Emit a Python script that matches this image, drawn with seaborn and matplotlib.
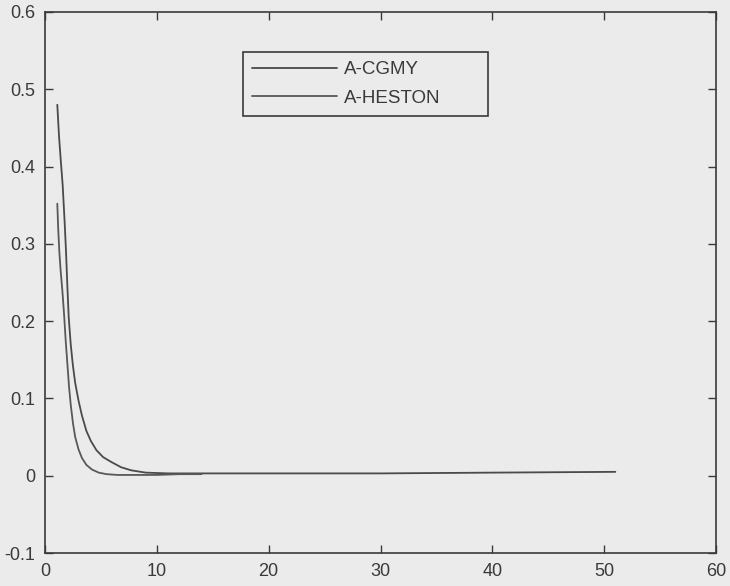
import matplotlib
matplotlib.use("Agg")
import matplotlib.pyplot as plt
import seaborn as sns
import pandas as pd

# data
cgmy_x = [1.1, 1.25, 1.4, 1.58, 1.75, 1.88, 2.0, 2.12, 2.3, 2.5, 2.7, 3.0, 3.3, 3.7,
          4.1, 4.6, 5.2, 5.9, 6.8, 7.7, 9, 11, 14, 20, 30, 40, 51]
cgmy_y = [0.48, 0.44, 0.41, 0.376, 0.33, 0.29, 0.245, 0.205, 0.17, 0.142, 0.12, 0.097,
          0.078, 0.058, 0.045, 0.033, 0.024, 0.018, 0.011, 0.007, 0.004, 0.003, 0.003,
          0.003, 0.003, 0.004, 0.005]
heston_x = [1.1, 1.18, 1.28, 1.4, 1.55, 1.7, 1.85, 2.0, 2.15, 2.3, 2.5, 2.7, 3.0, 3.3,
            3.7, 4.2, 4.8, 5.5, 6.5, 8, 10, 12, 14]
heston_y = [0.352, 0.32, 0.29, 0.265, 0.24, 0.21, 0.175, 0.145, 0.115, 0.092, 0.068,
            0.05, 0.034, 0.023, 0.014, 0.008, 0.004, 0.002, 0.001, 0.001, 0.001, 0.002,
            0.002]
labels = ["A-CGMY", "A-HESTON"]
x_ticks = [0, 10, 20, 30, 40, 50, 60]
y_ticks = [-0.1, 0, 0.1, 0.2, 0.3, 0.4, 0.5, 0.6]
y_ticklabels = ["-0.1", "0", "0.1", "0.2", "0.3", "0.4", "0.5", "0.6"]

df = pd.concat([
    pd.DataFrame({"x": cgmy_x, "y": cgmy_y, "series": labels[0]}),
    pd.DataFrame({"x": heston_x, "y": heston_y, "series": labels[1]}),
], ignore_index=True)

sns.set_theme(style="ticks")
plt.rcParams["font.family"] = ["Liberation Sans", "DejaVu Sans"]

bg = "#ebebeb"
ink = "#3a3a3a"
fig = plt.figure(figsize=(7.3, 5.86), dpi=100, facecolor=bg)
ax = fig.add_axes([45 / 730, 33 / 586, 671 / 730, 541 / 586])
ax.set_facecolor(bg)

sns.lineplot(data=df, x="x", y="y", hue="series", sort=False, estimator=None,
             palette={labels[0]: "#4a4a4a", labels[1]: "#585858"},
             linewidth=1.3, ax=ax, legend=False)

ax.set_xlim(0, 60)
ax.set_ylim(-0.1, 0.6)
ax.set_xticks(x_ticks)
ax.set_xticklabels([str(t) for t in x_ticks])
ax.set_yticks(y_ticks)
ax.set_yticklabels(y_ticklabels)
ax.set_xlabel("")
ax.set_ylabel("")
ax.tick_params(direction="in", length=6, width=1, colors=ink, labelsize=13,
               top=True, right=True, labelcolor=ink, pad=7)
for s in ax.spines.values():
    s.set_visible(True)
    s.set_color(ink)
    s.set_linewidth(1.2)

handles = ax.get_lines()[:2]
leg = ax.legend(handles, labels, loc="upper left",
                bbox_to_anchor=((243 - 45) / 671, (553 - 52) / 541, (488 - 243) / 671, 0.0),
                mode="expand", fontsize=13.5, frameon=True, fancybox=False,
                handlelength=4.5, handletextpad=0.4, labelspacing=0.6,
                borderpad=0.5, borderaxespad=0)
leg.get_frame().set_edgecolor(ink)
leg.get_frame().set_linewidth(1.2)
leg.get_frame().set_facecolor(bg)
leg.get_frame().set_alpha(1)
for t in leg.get_texts():
    t.set_color(ink)

fig.savefig("out.png", dpi=100, facecolor=bg)
